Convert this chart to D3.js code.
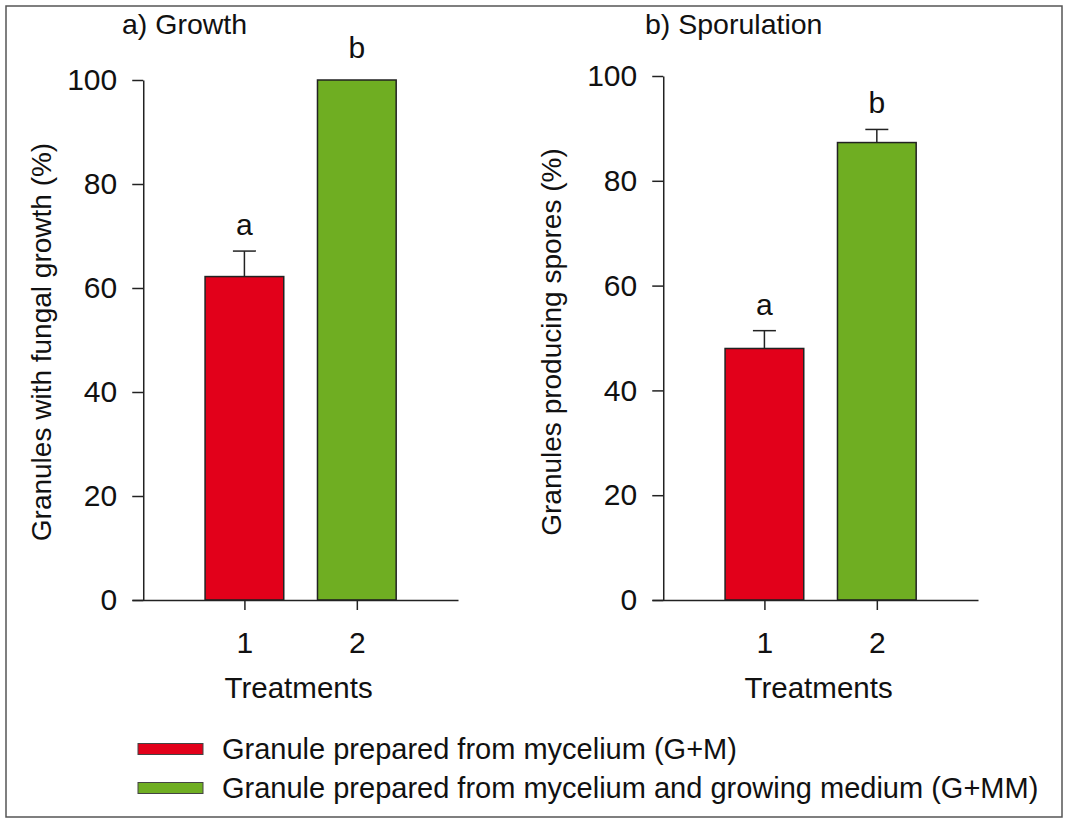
<!DOCTYPE html>
<html>
<head>
<meta charset="utf-8">
<script src="https://cdn.jsdelivr.net/npm/d3@7"></script>
<style>
  html, body { margin: 0; padding: 0; background: #fff; }
  svg text { font-family: "Liberation Sans", Arial, Helvetica, sans-serif; fill: #111; }
</style>
</head>
<body>
<svg id="chart" width="1065" height="821"></svg>
<script>
// ---- data ----
const treatments = [1, 2];
const seriesNames = ["Granule prepared from mycelium (G+M)", "Granule prepared from mycelium and growing medium (G+MM)"];
const seriesColors = ["#e2001a", "#6fae22"];
const growthMean = [62.2, 100];
const growthSE = [4.9, 0];
const growthLetters = ["a", "b"];
const sporMean = [48.0, 87.3];
const sporSE = [3.4, 2.5];
const sporLetters = ["a", "b"];
const yTicks = [0, 20, 40, 60, 80, 100];
const panelTitles = ["a) Growth", "b) Sporulation"];
const yTitles = ["Granules with fungal growth (%)", "Granules producing spores (%)"];
const xTitle = "Treatments";

const svg = d3.select("#chart");
const FS_TICK = 30, FS_LAB = 29.5, FS_TITLE = 28.5, FS_YT = 28, FS_LET = 30;

// border
svg.append("rect").attr("x", 6).attr("y", 6).attr("width", 1056).attr("height", 811)
  .attr("fill", "none").attr("stroke", "#555").attr("stroke-width", 1.5);

function panel(opts) {
  const { x0, yTop, mean, se, letters, title, ytitle, ytitleX, titleX } = opts;
  const g = svg.append("g");
  const x = d3.scaleLinear().domain([0, 2.9]).range([x0, x0 + 326]);
  const y = d3.scaleLinear().domain([0, 100]).range([600, yTop]);
  const axX = x(0.1);
  const bw = x(0.7) - x(0);

  // bars
  g.selectAll("rect.bar").data(treatments).join("rect")
    .attr("class", "bar")
    .attr("x", d => x(d) - bw / 2)
    .attr("y", (d, i) => y(mean[i]))
    .attr("width", bw)
    .attr("height", (d, i) => y(0) - y(mean[i]))
    .attr("fill", (d, i) => seriesColors[i])
    .attr("stroke", "#222").attr("stroke-width", 1.5);

  // error bars
  treatments.forEach((d, i) => {
    if (se[i] > 0) {
      g.append("line").attr("x1", x(d)).attr("x2", x(d))
        .attr("y1", y(mean[i])).attr("y2", y(mean[i] + se[i]))
        .attr("stroke", "#222").attr("stroke-width", 1.5);
      g.append("line").attr("x1", x(d) - 11.5).attr("x2", x(d) + 11.5)
        .attr("y1", y(mean[i] + se[i])).attr("y2", y(mean[i] + se[i]))
        .attr("stroke", "#222").attr("stroke-width", 1.5);
    }
    g.append("text").attr("x", x(d)).attr("y", y(mean[i] + se[i]) - (se[i] > 0 ? 16 : 22))
      .attr("text-anchor", "middle").attr("font-size", FS_LET).text(letters[i]);
  });

  // x axis
  const xa = g.append("g").attr("transform", `translate(0,${y(0)})`)
    .call(d3.axisBottom(x).tickValues(treatments).tickSize(10).tickSizeOuter(0).tickPadding(22).tickFormat(d3.format("d")));
  // y axis
  const ya = g.append("g").attr("transform", `translate(${axX},0)`)
    .call(d3.axisLeft(y).tickValues(yTicks).tickSize(11).tickSizeOuter(0).tickPadding(15));
  [xa, ya].forEach(a => {
    a.selectAll("path,line").attr("stroke", "#222").attr("stroke-width", 1.5);
    a.selectAll("text").attr("font-size", FS_TICK).attr("fill", "#111")
      .attr("font-family", '"Liberation Sans", Arial, sans-serif');
  });

  // x title
  g.append("text").attr("x", (x(1) + x(2)) / 2 - 2).attr("y", 698)
    .attr("text-anchor", "middle").attr("font-size", FS_LAB).text(xTitle);
  // y title
  g.append("text").attr("transform", `translate(${ytitleX},342) rotate(-90)`)
    .attr("text-anchor", "middle").attr("font-size", FS_YT).text(ytitle);
  // panel title
  g.append("text").attr("x", titleX).attr("y", 34).attr("font-size", FS_TITLE).text(title);
}

panel({ x0: 132, yTop: 80, mean: growthMean, se: growthSE, letters: growthLetters,
  title: panelTitles[0], ytitle: yTitles[0], ytitleX: 51, titleX: 122 });
panel({ x0: 652, yTop: 76, mean: sporMean, se: sporSE, letters: sporLetters,
  title: panelTitles[1], ytitle: yTitles[1], ytitleX: 561, titleX: 645 });

// legend
const lg = svg.append("g");
seriesNames.forEach((name, i) => {
  const cy = 749 + i * 39;
  lg.append("rect").attr("x", 138).attr("y", cy - 5.5).attr("width", 65).attr("height", 11)
    .attr("fill", seriesColors[i]).attr("stroke", "#444").attr("stroke-width", 1);
  lg.append("text").attr("x", 222).attr("y", cy + 10).attr("font-size", 29).text(name);
});
</script>
</body>
</html>
